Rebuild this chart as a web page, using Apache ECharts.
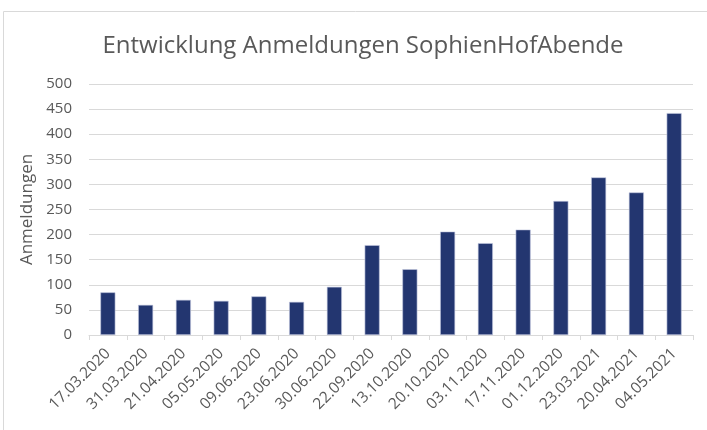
<!DOCTYPE html>
<html>
<head>
<meta charset="utf-8">
<script src="https://cdn.jsdelivr.net/npm/echarts@6/dist/echarts.min.js"></script>
<style>
  html, body { margin: 0; padding: 0; background: #fff; }
  #chart { width: 707px; height: 430px; }
</style>
</head>
<body>
<div id="chart"></div>
<script>
// Termine (x-Achse)
const dates = [
  '17.03.2020', '31.03.2020', '21.04.2020', '05.05.2020', '09.06.2020', '23.06.2020',
  '30.06.2020', '22.09.2020', '13.10.2020', '20.10.2020', '03.11.2020', '17.11.2020',
  '01.12.2020', '23.03.2021', '20.04.2021', '04.05.2021'
];
// Anmeldungen pro Abend
const anmeldungen = [85, 60, 70, 68, 77, 66, 96, 179, 131, 206, 183, 210, 267, 314, 284, 442];

const yMin = 0;
const yMax = 500;
const yStep = 50;

const textColor = '#595959';
const lineColor = '#d9d9d9';
const fontFamily = '"Open Sans", sans-serif';

const chart = echarts.init(document.getElementById('chart'));

chart.setOption({
  animation: false,
  title: {
    text: 'Entwicklung Anmeldungen SophienHofAbende',
    left: 358,
    top: 29,
    textAlign: 'center',
    textStyle: {
      fontFamily,
      fontSize: 24,
      fontWeight: 'normal',
      color: textColor
    }
  },
  graphic: [
    {
      type: 'rect',
      shape: { x: 3.5, y: 11.5, width: 760, height: 460 },
      style: { fill: 'none', stroke: lineColor, lineWidth: 1 },
      silent: true
    }
  ],
  grid: {
    left: 89,
    right: 14,
    top: 84,
    bottom: 95
  },
  xAxis: {
    type: 'category',
    data: dates,
    axisLine: { lineStyle: { color: lineColor } },
    axisTick: { show: true, length: 5, lineStyle: { color: lineColor } },
    axisLabel: {
      rotate: 45,
      margin: 16,
      interval: 0,
      fontFamily,
      fontSize: 15.5,
      color: textColor
    }
  },
  yAxis: {
    type: 'value',
    min: yMin,
    max: yMax,
    interval: yStep,
    name: 'Anmeldungen',
    nameLocation: 'middle',
    nameGap: 48,
    nameTextStyle: {
      fontFamily,
      fontSize: 17,
      color: textColor
    },
    axisLine: { show: false },
    axisTick: { show: false },
    splitLine: { lineStyle: { color: lineColor, width: 1 } },
    axisLabel: {
      margin: 17,
      fontFamily,
      fontSize: 15,
      color: textColor
    }
  },
  series: [
    {
      name: 'Anmeldungen',
      type: 'bar',
      data: anmeldungen,
      barWidth: 15,
      itemStyle: {
        color: '#233670',
        borderColor: '#c5cae0',
        borderWidth: 0.6
      }
    }
  ]
});
</script>
</body>
</html>
